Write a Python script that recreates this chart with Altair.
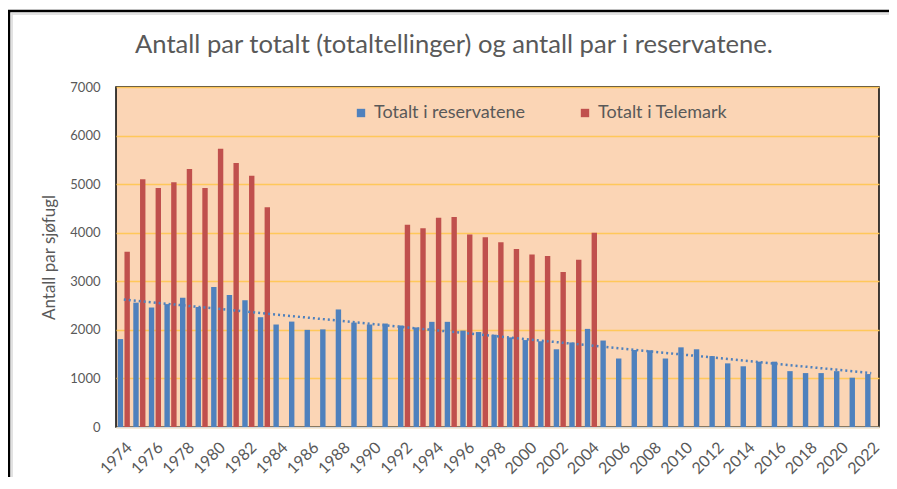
import altair as alt
import pandas as pd

# ---------------- data ----------------
years = [str(y) for y in range(1974, 2023)]

reservatene = [
    1810, 2560, 2460, 2530, 2660, 2470, 2880, 2720, 2610, 2260,   # 1974-1983
    2110, 2170, 2000, 2010, 2420, 2150, 2110, 2130,               # 1984-1991
    2090, 2050, 2165, 2165, 1985, 1955, 1900, 1845, 1790, 1765,   # 1992-2001
    1600, 1740, 2020,                                             # 2002-2004
    1780, 1410, 1585, 1580, 1410, 1640, 1600, 1460, 1310, 1250,   # 2005-2014
    1345, 1345, 1150, 1110, 1110, 1150, 1015, 1090,               # 2015-2022
]

telemark_years = [str(y) for y in list(range(1974, 1984)) + list(range(1992, 2005))]
telemark = [
    3610, 5100, 4920, 5040, 5310, 4920, 5730, 5435, 5175, 4525,   # 1974-1983
    4165, 4090, 4310, 4325, 3965, 3905, 3805, 3665, 3550, 3520,   # 1992-2001
    3190, 3445, 4000,                                             # 2002-2004
]

series_names = ["Totalt i reservatene", "Totalt i Telemark"]
series_colors = ["#4F81BD", "#C0504D"]
y_ticks = [0, 1000, 2000, 3000, 4000, 5000, 6000, 7000]
x_label_years = years[::2]

title_text = "Antall par totalt (totaltellinger) og antall par i reservatene."
y_title = "Antall par sjøfugl"

rows = []
for yr, v in zip(years, reservatene):
    rows.append({"year": yr, "yr": int(yr), "series": series_names[0], "value": v})
for yr, v in zip(telemark_years, telemark):
    rows.append({"year": yr, "yr": int(yr), "series": series_names[1], "value": v})
df = pd.DataFrame(rows)
df_res = df[df["series"] == series_names[0]]

FONT = "Lato"
GREY = "#595959"

x_enc = alt.X(
    "year:O",
    scale=alt.Scale(domain=years, paddingInner=0.22, paddingOuter=0.11),
    axis=alt.Axis(
        values=x_label_years, labelAngle=-45, labelAlign="right", labelBaseline="top",
        labelFontSize=16, labelColor=GREY, labelFont=FONT, labelPadding=12,
        ticks=False, domainColor="#D9D9D9", domainWidth=1.5, grid=False,
    ),
    title=None,
)

y_enc = alt.Y(
    "value:Q",
    scale=alt.Scale(domain=[0, 7000], nice=False),
    axis=alt.Axis(
        values=y_ticks, format="d", labelFontSize=13, labelColor=GREY, labelFont=FONT,
        labelPadding=16, ticks=False, domain=False,
        grid=True, gridColor="#FFC85A", gridWidth=1.5,
        titleFontSize=17, titleColor=GREY, titleFont=FONT, titleFontWeight="normal",
        titlePadding=11,
    ),
    title=y_title,
)

bars = alt.Chart(df).mark_bar().encode(
    x=x_enc,
    xOffset=alt.XOffset("series:N", scale=alt.Scale(domain=series_names, paddingInner=0.2)),
    y=y_enc,
    color=alt.Color(
        "series:N",
        scale=alt.Scale(domain=series_names, range=series_colors),
        legend=alt.Legend(
            orient="none", legendX=236, legendY=17, direction="horizontal",
            symbolType="square", symbolSize=70, symbolStrokeWidth=0, symbolOpacity=1,
            labelFontSize=18, labelColor=GREY, labelFont=FONT, labelLimit=0,
            columnPadding=50, title=None,
        ),
    ),
)

trend = (
    alt.Chart(df_res)
    .transform_regression("yr", "value")
    .transform_calculate(year="toString(datum.yr)")
    .mark_line(strokeDash=[2, 3], color="#4F81BD", strokeWidth=2.5)
    .encode(x=alt.X("year:O"), y=alt.Y("value:Q"))
)

frame_df = pd.DataFrame({"k": [0]})
frame_left = alt.Chart(frame_df).mark_rule(color="black", strokeWidth=2.5).encode(
    x=alt.value(-107), y=alt.value(-76), y2=alt.value(400)
)
frame_top = alt.Chart(frame_df).mark_rule(color="black", strokeWidth=2.5).encode(
    x=alt.value(-108), x2=alt.value(780), y=alt.value(-76)
)
frame_left2 = alt.Chart(frame_df).mark_rule(color="#D9D9D9", strokeWidth=1.5).encode(
    x=alt.value(-104), y=alt.value(-74), y2=alt.value(400)
)
frame_top2 = alt.Chart(frame_df).mark_rule(color="#D9D9D9", strokeWidth=1.5).encode(
    x=alt.value(-104), x2=alt.value(780), y=alt.value(-73)
)

chart = (
    alt.layer(bars, trend, frame_left, frame_top, frame_left2, frame_top2)
    .properties(
        width=763,
        height=340,
        autosize=alt.AutoSizeParams(type="none"),
        padding={"left": 108, "top": 79, "right": 10, "bottom": 50},
        title=alt.Title(
            title_text, anchor="start", frame="group", dx=19, offset=-49,
            fontSize=25.6, color=GREY, font=FONT, fontWeight="normal",
        ),
        background="white",
    )
    .configure_view(fill="#FBD5B5", stroke="black", strokeWidth=1.5)
)

chart.save("out.html", embed_options={"renderer": "svg", "actions": False})
